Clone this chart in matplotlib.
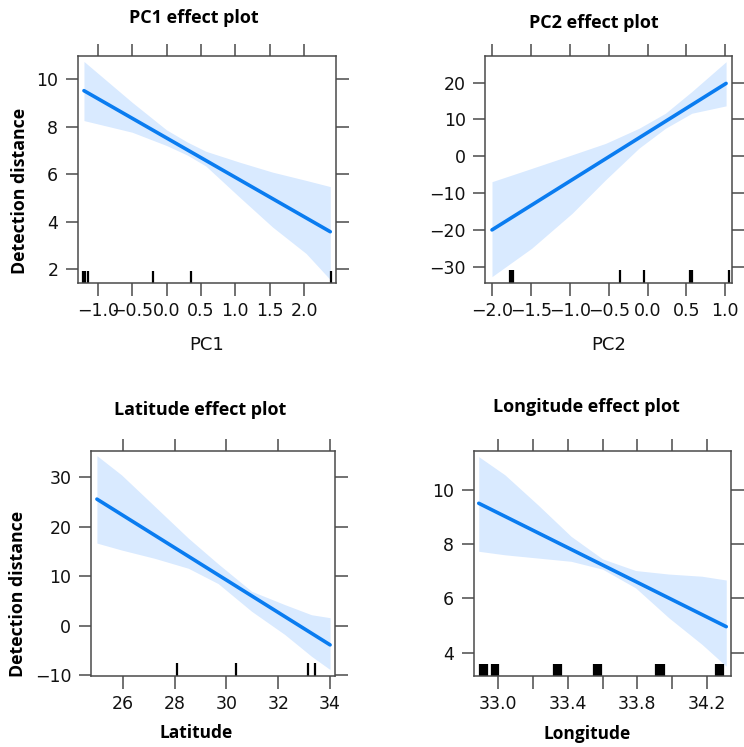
import matplotlib
matplotlib.use('Agg')
import matplotlib.pyplot as plt

W, H = 744, 747

# PC1 effect
pc1_line_x = [-1.2, 2.38]
pc1_line_y = [9.51, 3.57]
pc1_band_x = [-1.2, -0.5, 0.0, 0.3, 0.57, 1.06, 1.54, 2.03, 2.38]
pc1_upper = [10.74, 9.02, 7.86, 7.35, 6.96, 6.50, 6.08, 5.73, 5.47]
pc1_lower = [8.25, 7.76, 7.20, 6.80, 6.34, 5.03, 3.77, 2.65, 1.55]
pc1_rug = [-1.21, -1.18, -1.14, -0.20, 0.36, 2.39]

# PC2 effect
pc2_line_x = [-2.0, 1.01]
pc2_line_y = [-20.0, 19.8]
pc2_band_x = [-2.0, -1.49, -0.97, -0.54, -0.11, 0.23, 0.57, 1.01]
pc2_upper = [-6.9, -3.3, 0.4, 3.5, 7.6, 11.7, 17.6, 25.7]
pc2_lower = [-32.7, -25.0, -15.5, -6.4, 2.2, 7.6, 11.7, 13.7]
pc2_rug = [-1.765, -1.75, -1.735, -0.36, -0.05, 0.54, 0.555, 0.57, 1.05]

# Latitude effect
lat_line_x = [25.0, 34.0]
lat_line_y = [25.6, -3.9]
lat_band_x = [25.0, 25.95, 27.24, 28.53, 29.68, 30.97, 32.25, 33.28, 34.0]
lat_upper = [34.4, 30.5, 24.1, 17.7, 12.5, 6.95, 4.25, 2.2, 1.6]
lat_lower = [16.7, 15.3, 13.6, 11.6, 8.5, 2.9, -1.8, -6.2, -8.9]
lat_rug = [28.09, 30.36, 33.16, 33.42]

# Longitude effect
lon_line_x = [32.89, 34.31]
lon_line_y = [9.51, 4.96]
lon_band_x = [32.89, 33.04, 33.23, 33.42, 33.60, 33.79, 33.98, 34.17, 34.31]
lon_upper = [11.23, 10.56, 9.45, 8.29, 7.46, 7.03, 6.90, 6.82, 6.68]
lon_lower = [7.74, 7.61, 7.49, 7.37, 7.08, 6.39, 5.29, 4.31, 3.50]
lon_rug = [32.897, 32.905, 32.913, 32.921, 32.929, 32.935,
           32.964, 32.972, 32.980, 32.988, 32.996, 33.001,
           33.322, 33.330, 33.338, 33.346, 33.354, 33.360,
           33.552, 33.560, 33.568, 33.576, 33.584, 33.590,
           33.906, 33.914, 33.922, 33.930, 33.938, 33.946, 33.954,
           34.250, 34.258, 34.266, 34.274, 34.282, 34.290]

LINE = '#0a7cf0'
BAND = '#d9eaff'
FRAME = '#4a4a4a'
BOLD = dict(family='Open Sans', weight='bold')


def panel(fig, box, xlim, ylim):
    l, r, t, b = box
    ax = fig.add_axes([l / W, 1 - b / H, (r - l) / W, (b - t) / H])
    ax.set_xlim(*xlim)
    ax.set_ylim(*ylim)
    for s in ax.spines.values():
        s.set_color(FRAME)
        s.set_linewidth(1.1)
    ax.tick_params(direction='out', length=9, width=1.1, color=FRAME,
                   top=True, right=True, labeltop=False, labelright=False,
                   labelsize=12.5, labelcolor='#111111', pad=5)
    return ax


def effect(ax, lx, ly, bx, up, lo, rug):
    ax.fill_between(bx, lo, up, color=BAND, lw=0)
    ax.plot(lx, ly, color=LINE, lw=2.6, solid_capstyle='round')
    ax.vlines(rug, 0, 0.055, transform=ax.get_xaxis_transform(),
              color='black', lw=1.6)


def text(fig, x, y, s, **kw):
    fig.text(x / W, 1 - y / H, s, ha='center', va='center', **kw)


fig = plt.figure(figsize=(W / 100, H / 100), dpi=100)

ax1 = panel(fig, (77.7, 335.7, 56, 283), (-1.291, 2.459), (1.41, 10.97))
effect(ax1, pc1_line_x, pc1_line_y, pc1_band_x, pc1_upper, pc1_lower, pc1_rug)
ax1.set_xticks([-1.0, -0.5, 0.0, 0.5, 1.0, 1.5, 2.0])
ax1.set_yticks([2, 4, 6, 8, 10])

ax2 = panel(fig, (485.3, 732, 56, 282.7), (-2.086, 1.086), (-34.35, 27.25))
effect(ax2, pc2_line_x, pc2_line_y, pc2_band_x, pc2_upper, pc2_lower, pc2_rug)
ax2.set_xticks([-2.0, -1.5, -1.0, -0.5, 0.0, 0.5, 1.0])
ax2.set_yticks([-30, -20, -10, 0, 10, 20])

ax3 = panel(fig, (90.7, 335, 450.7, 675.7), (24.76, 34.19), (-10.14, 35.4))
effect(ax3, lat_line_x, lat_line_y, lat_band_x, lat_upper, lat_lower, lat_rug)
ax3.set_xticks([26, 28, 30, 32, 34])
ax3.set_yticks([-10, 0, 10, 20, 30])

ax4 = panel(fig, (473.7, 731.3, 450.7, 676), (32.861, 34.339), (3.14, 11.45))
effect(ax4, lon_line_x, lon_line_y, lon_band_x, lon_upper, lon_lower, lon_rug)
ax4.set_xticks([33.0, 33.2, 33.4, 33.6, 33.8, 34.0, 34.2])
ax4.set_xticklabels(['33.0', '', '33.4', '', '33.8', '', '34.2'])
ax4.set_yticks([4, 6, 8, 10])

text(fig, 194, 18, 'PC1 effect plot', fontsize=13, **BOLD)
text(fig, 594, 23, 'PC2 effect plot', fontsize=13, **BOLD)
text(fig, 200, 410, 'Latitude effect plot', fontsize=13, **BOLD)
text(fig, 586, 407, 'Longitude effect plot', fontsize=13, **BOLD)

text(fig, 207, 345, 'PC1', fontsize=13, color='#111111')
text(fig, 609, 345, 'PC2', fontsize=13, color='#111111')
text(fig, 196, 733, 'Latitude', fontsize=12.5, **BOLD)
text(fig, 587, 734, 'Longitude', fontsize=12.5, **BOLD)

text(fig, 20, 191, 'Detection distance', fontsize=12.8, rotation=90, **BOLD)
text(fig, 18, 594, 'Detection distance', fontsize=12.8, rotation=90, **BOLD)

fig.savefig('out.png', dpi=100, facecolor='white')
